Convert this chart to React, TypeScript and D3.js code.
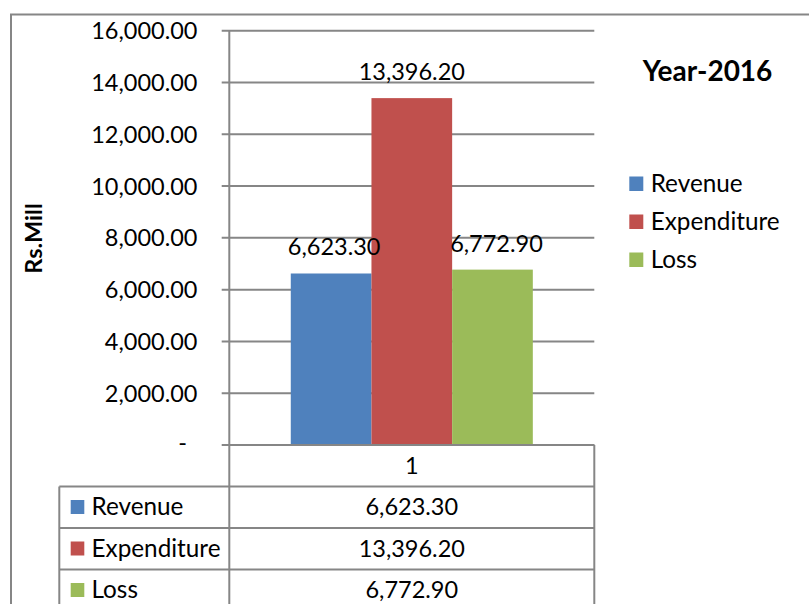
import React from "react";
import * as d3 from "d3";

const categories = ["1"];
const seriesNames = ["Revenue", "Expenditure", "Loss"];
const seriesValues = [6623.3, 13396.2, 6772.9];
const seriesColors = ["#4F81BD", "#C0504D", "#9BBB59"];
const yTickValues = [0, 2000, 4000, 6000, 8000, 10000, 12000, 14000, 16000];
const title = "Year-2016";
const yAxisTitle = "Rs.Mill";

const W = 809;
const H = 604;
const FONT = "Lato, 'Open Sans', sans-serif";
const GRID = "#868686";

export default function App() {
  const plotLeft = 229.3;
  const plotRight = 594.3;
  const plotTop = 30.7;
  const plotBottom = 445;

  const y = d3.scaleLinear().domain([0, 16000]).range([plotBottom, plotTop]);
  const x0 = d3
    .scaleBand<string>()
    .domain(categories)
    .range([plotLeft, plotRight])
    .paddingInner(0)
    .paddingOuter(0.254);
  const x1 = d3
    .scaleBand<string>()
    .domain(seriesNames)
    .range([0, x0.bandwidth()])
    .padding(0);

  const fmt = d3.format(",.2f");
  const tickFmt = (v: number) => (v === 0 ? "-" : fmt(v));

  const rowH = 41.5;
  const tableTop = plotBottom;
  const tableLeft = 59.3;
  const nRows = 1 + seriesNames.length;
  const rowYs = d3.range(nRows + 1).map((i) => tableTop + i * rowH);

  const fs = 23.5;
  const fsName = 24.3;

  return (
    <svg
      width={W}
      height={H}
      style={{ position: "absolute", left: 0, top: 0, background: "#fff" }}
      fontFamily={FONT}
    >
      <rect x={0} y={0} width={W} height={H} fill="#fff" />
      {/* outer chart frame (cropped) */}
      <rect x={11} y={14.5} width={W + 20} height={H + 20} fill="none" stroke={GRID} strokeWidth={2} />

      {/* gridlines + ticks */}
      {yTickValues.map((t) => (
        <g key={t}>
          <line x1={221.7} x2={plotRight} y1={y(t)} y2={y(t)} stroke={GRID} strokeWidth={2} />
          <text
            x={t === 0 ? 187 : 197.5}
            y={y(t)}
            dy={t === 0 ? "0.25em" : "0.36em"}
            textAnchor="end"
            fontSize={fs}
            fill="#000"
          >
            {tickFmt(t)}
          </text>
        </g>
      ))}

      {/* bars */}
      {categories.map((c) => (
        <g key={c} transform={`translate(${x0(c)},0)`}>
          {seriesNames.map((s, i) => (
            <rect
              key={s}
              x={x1(s)}
              y={y(seriesValues[i])}
              width={x1.bandwidth()}
              height={plotBottom - y(seriesValues[i])}
              fill={seriesColors[i]}
            />
          ))}
          {seriesNames.map((s, i) => (
            <text
              key={s + "-lab"}
              x={(x1(s) as number) + x1.bandwidth() / 2 + (i === 0 ? 3 : i === 2 ? 4 : 0)}
              y={y(seriesValues[i]) - 18}
              textAnchor="middle"
              fontSize={fs}
              fill="#000"
            >
              {fmt(seriesValues[i])}
            </text>
          ))}
        </g>
      ))}

      {/* value axis line */}
      <line x1={plotLeft} x2={plotLeft} y1={plotTop} y2={H + 10} stroke={GRID} strokeWidth={2} />

      {/* data table */}
      {rowYs.map((ry, i) => (
        <line
          key={i}
          x1={i === 0 ? plotLeft : tableLeft}
          x2={plotRight}
          y1={ry}
          y2={ry}
          stroke={GRID}
          strokeWidth={2}
        />
      ))}
      <line x1={plotRight} x2={plotRight} y1={tableTop} y2={H + 10} stroke={GRID} strokeWidth={2} />
      <line x1={tableLeft} x2={tableLeft} y1={rowYs[1]} y2={H + 10} stroke={GRID} strokeWidth={2} />

      {categories.map((c) => (
        <text
          key={c}
          x={(x0(c) as number) + x0.bandwidth() / 2}
          y={rowYs[1] - 13}
          textAnchor="middle"
          fontSize={fs}
          fill="#000"
        >
          {c}
        </text>
      ))}
      {seriesNames.map((s, i) => (
        <g key={s}>
          <rect x={70.7} y={rowYs[i + 1] + 13.5} width={13.6} height={14} fill={seriesColors[i]} />
          <text x={91.5} y={rowYs[i + 2] - 13} fontSize={fsName} fill="#000">
            {s}
          </text>
          <text
            x={(x0(categories[0]) as number) + x0.bandwidth() / 2}
            y={rowYs[i + 2] - 13}
            textAnchor="middle"
            fontSize={fs}
            fill="#000"
          >
            {fmt(seriesValues[i])}
          </text>
        </g>
      ))}

      {/* y axis title */}
      <text
        transform={`translate(42,238.5) rotate(-90)`}
        textAnchor="middle"
        fontSize={fs}
        fontWeight="bold"
        fill="#000"
      >
        {yAxisTitle}
      </text>

      {/* chart title */}
      <text x={707.5} y={81} textAnchor="middle" fontSize={28} fontWeight="bold" fill="#000">
        {title}
      </text>

      {/* legend */}
      {seriesNames.map((s, i) => (
        <g key={s} transform={`translate(0,${i * 38})`}>
          <rect x={629.3} y={176.5} width={14} height={14.5} fill={seriesColors[i]} />
          <text x={650.7} y={191.5} fontSize={fsName} fill="#000">
            {s}
          </text>
        </g>
      ))}
    </svg>
  );
}
